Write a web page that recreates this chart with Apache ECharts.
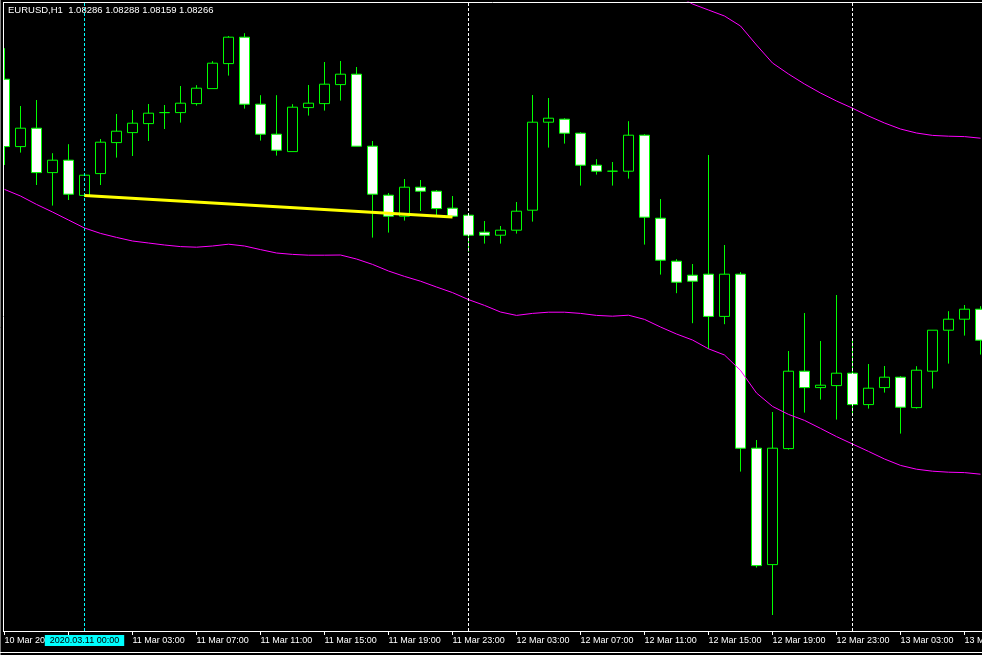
<!DOCTYPE html>
<html><head><meta charset="utf-8">
<script src="https://cdn.jsdelivr.net/npm/echarts@6/dist/echarts.min.js"></script>
<style>html,body{margin:0;padding:0;background:#000;overflow:hidden}#c{width:982px;height:655px}</style>
</head><body><div id="c"></div>
<script>
const categories = [
'10 Mar 19:00','10 Mar 20:00','10 Mar 21:00','10 Mar 22:00','10 Mar 23:00',
'11 Mar 00:00','11 Mar 01:00','11 Mar 02:00','11 Mar 03:00','11 Mar 04:00','11 Mar 05:00','11 Mar 06:00',
'11 Mar 07:00','11 Mar 08:00','11 Mar 09:00','11 Mar 10:00','11 Mar 11:00','11 Mar 12:00','11 Mar 13:00',
'11 Mar 14:00','11 Mar 15:00','11 Mar 16:00','11 Mar 17:00','11 Mar 18:00','11 Mar 19:00','11 Mar 20:00',
'11 Mar 21:00','11 Mar 22:00','11 Mar 23:00',
'12 Mar 00:00','12 Mar 01:00','12 Mar 02:00','12 Mar 03:00','12 Mar 04:00','12 Mar 05:00','12 Mar 06:00',
'12 Mar 07:00','12 Mar 08:00','12 Mar 09:00','12 Mar 10:00','12 Mar 11:00','12 Mar 12:00','12 Mar 13:00',
'12 Mar 14:00','12 Mar 15:00','12 Mar 16:00','12 Mar 17:00','12 Mar 18:00','12 Mar 19:00','12 Mar 20:00',
'12 Mar 21:00','12 Mar 22:00','12 Mar 23:00',
'13 Mar 00:00','13 Mar 01:00','13 Mar 02:00','13 Mar 03:00','13 Mar 04:00','13 Mar 05:00','13 Mar 06:00',
'13 Mar 07:00','13 Mar 08:00'];
const firstLabel = '10 Mar 2020';

const open = [
1.13344,1.13007,1.13099,1.12877,1.12939,1.12763,1.12872,1.13027,1.13077,1.13122,
1.13177,1.13177,1.13222,1.13297,1.13422,1.13554,1.13219,1.13069,1.12982,1.13202,
1.13222,1.13317,1.13369,1.13009,1.12764,1.12659,1.12804,1.12784,1.12699,1.12664,
1.12579,1.12564,1.12589,1.12689,1.13129,1.13144,1.13074,1.12914,1.12884,1.12884,
1.13064,1.12649,1.12434,1.12364,1.12369,1.12158,1.12369,1.11499,1.10917,1.11497,
1.11884,1.11802,1.11812,1.11874,1.11717,1.11802,1.11854,1.11702,1.11884,1.12089,
1.12144,1.12194];
const high = [
1.13499,1.13210,1.13240,1.12974,1.13019,1.12865,1.13045,1.13170,1.13190,1.13220,
1.13215,1.13310,1.13314,1.13434,1.13560,1.13574,1.13264,1.13264,1.13219,1.13315,
1.13430,1.13435,1.13405,1.13035,1.12775,1.12845,1.12840,1.12790,1.12760,1.12664,
1.12635,1.12610,1.12730,1.13265,1.13250,1.13149,1.13079,1.12944,1.12930,1.13134,
1.13069,1.12745,1.12444,1.12420,1.12965,1.12515,1.12379,1.11540,1.11680,1.11985,
1.12175,1.12035,1.12265,1.12044,1.11920,1.11910,1.11859,1.11909,1.12089,1.12184,
1.12215,1.12209];
const low = [
1.12915,1.12977,1.12815,1.12712,1.12740,1.12755,1.12815,1.12952,1.12960,1.13035,
1.13095,1.13127,1.13212,1.13297,1.13362,1.13197,1.13037,1.12962,1.12982,1.13162,
1.13187,1.13237,1.13009,1.12552,1.12577,1.12637,1.12685,1.12657,1.12655,1.12482,
1.12522,1.12522,1.12572,1.12632,1.13002,1.13022,1.12812,1.12867,1.12812,1.12847,
1.12517,1.12367,1.12274,1.12124,1.11995,1.12119,1.11382,1.10902,1.10665,1.11492,
1.11677,1.11742,1.11642,1.11665,1.11697,1.11777,1.11572,1.11697,1.11797,1.11922,
1.12062,1.11967];
const close = [
1.13007,1.13099,1.12877,1.12939,1.12769,1.12864,1.13029,1.13084,1.13124,1.13174,
1.13177,1.13224,1.13299,1.13424,1.13554,1.13219,1.13069,1.12989,1.13204,1.13224,
1.13319,1.13369,1.13009,1.12769,1.12659,1.12804,1.12784,1.12697,1.12659,1.12564,
1.12564,1.12589,1.12684,1.13129,1.13149,1.13074,1.12914,1.12884,1.12884,1.13064,
1.12654,1.12439,1.12329,1.12334,1.12158,1.12369,1.11499,1.10912,1.11499,1.11884,
1.11802,1.11814,1.11874,1.11717,1.11799,1.11854,1.11704,1.11889,1.12089,1.12144,
1.12194,1.12039];

const lowerBand = [
1.12793,1.12760,1.12718,1.12680,1.12640,1.12600,1.12573,1.12553,1.12535,1.12525,
1.12515,1.12507,1.12504,1.12510,1.12519,1.12510,1.12492,1.12475,1.12468,1.12464,
1.12464,1.12465,1.12445,1.12418,1.12385,1.12358,1.12334,1.12305,1.12277,1.12242,
1.12213,1.12180,1.12163,1.12173,1.12179,1.12179,1.12173,1.12163,1.12159,1.12164,
1.12143,1.12105,1.12070,1.12040,1.11996,1.11965,1.11888,1.11775,1.11708,1.11668,
1.11638,1.11598,1.11557,1.11520,1.11483,1.11445,1.11413,1.11394,1.11384,1.11379,
1.11377,1.11369];
const upperBand = [
null,null,null,null,null,null,null,null,null,null,
null,null,null,null,null,null,null,null,null,null,
null,null,null,null,null,null,null,null,null,null,
null,null,null,null,null,null,null,null,null,null,
null,1.13800,1.13765,1.13720,1.13690,1.13660,1.13610,1.13515,1.13425,1.13370,
1.13320,1.13275,1.13235,1.13199,1.13160,1.13125,1.13095,1.13075,1.13063,1.13059,
1.13057,1.13049];

const trendTimes = ['11 Mar 00:00', '11 Mar 23:00'];
const trendPrices = [1.12763, 1.12655];
const daySeparators = ['12 Mar 00:00', '13 Mar 00:00'];
const cursorTime = '11 Mar 00:00';
const cursorLabel = '2020.03.11 00:00';
const header = 'EURUSD,H1  1.08286 1.08288 1.08159 1.08266';
const yMin = 1.10585, yMax = 1.13730;

const FONT = '"Liberation Sans", Arial, sans-serif';
const chart = echarts.init(document.getElementById('c'), null, {renderer: 'canvas'});
const candleData = open.map((o, i) => [o, close[i], low[i], high[i]]);

const markData = daySeparators.map(d => ({
  xAxis: d,
  lineStyle: {color: '#ffffff', type: [3, 2], width: 1},
  label: {show: false}
}));
markData.push({
  xAxis: cursorTime,
  lineStyle: {color: '#00ffff', type: [3, 2], width: 1},
  label: {show: true, position: 'start', distance: 4, formatter: cursorLabel,
    backgroundColor: '#00ffff', color: '#000', fontSize: 9, fontFamily: FONT,
    padding: [1, 5, 0, 5], lineHeight: 10}
});
markData.push([
  {coord: [trendTimes[0], trendPrices[0]], lineStyle: {color: '#ffff00', width: 3, type: 'solid'}, label: {show: false}},
  {coord: [trendTimes[1], trendPrices[1]]}
]);

chart.setOption({
  backgroundColor: '#000',
  animation: false,
  title: {text: header, left: 8, top: 5, padding: 0,
    textStyle: {color: '#fff', fontSize: 9.5, fontWeight: 'normal', fontFamily: FONT}},
  grid: {left: -3.5, right: -6.5, top: 2, bottom: 24, containLabel: false, outerBoundsMode: 'none'},
  xAxis: {
    type: 'category', data: categories, boundaryGap: true,
    axisLine: {show: true, lineStyle: {color: '#fff', width: 1}},
    axisTick: {show: true, interval: 3, alignWithLabel: true, length: 4, lineStyle: {color: '#fff'}},
    axisLabel: {show: true, interval: 3, align: 'left', margin: 5, color: '#fff', fontSize: 9,
      fontFamily: FONT, formatter: (v, i) => i === 0 ? firstLabel : v},
    splitLine: {show: false}
  },
  yAxis: {type: 'value', min: yMin, max: yMax, show: false, splitLine: {show: false}},
  series: [
    {
      type: 'candlestick', data: candleData, barWidth: 10,
      itemStyle: {color: '#000', color0: '#fff', borderColor: '#00ff00', borderColor0: '#00ff00',
        borderColorDoji: '#00ff00', borderWidth: 1},
      markLine: {symbol: ['none', 'none'], silent: true, animation: false, data: markData}
    },
    {type: 'line', data: lowerBand, symbol: 'none', lineStyle: {color: '#ff00ff', width: 1}},
    {type: 'line', data: upperBand, symbol: 'none', connectNulls: false, lineStyle: {color: '#ff00ff', width: 1}}
  ],
  graphic: [
    {type: 'rect', shape: {x: 0, y: 0, width: 3, height: 655}, style: {fill: '#000'}, z: 100},
    {type: 'line', shape: {x1: 0.5, y1: 0, x2: 0.5, y2: 655}, style: {stroke: '#808080', lineWidth: 1}, z: 101},
    {type: 'line', shape: {x1: 3.5, y1: 2, x2: 3.5, y2: 631}, style: {stroke: '#fff', lineWidth: 1}, z: 101},
    {type: 'line', shape: {x1: 3, y1: 2.5, x2: 982, y2: 2.5}, style: {stroke: '#fff', lineWidth: 1}, z: 101},
    {type: 'line', shape: {x1: 0, y1: 652.5, x2: 982, y2: 652.5}, style: {stroke: '#fff', lineWidth: 1}, z: 101}
  ]
});
</script></body></html>
